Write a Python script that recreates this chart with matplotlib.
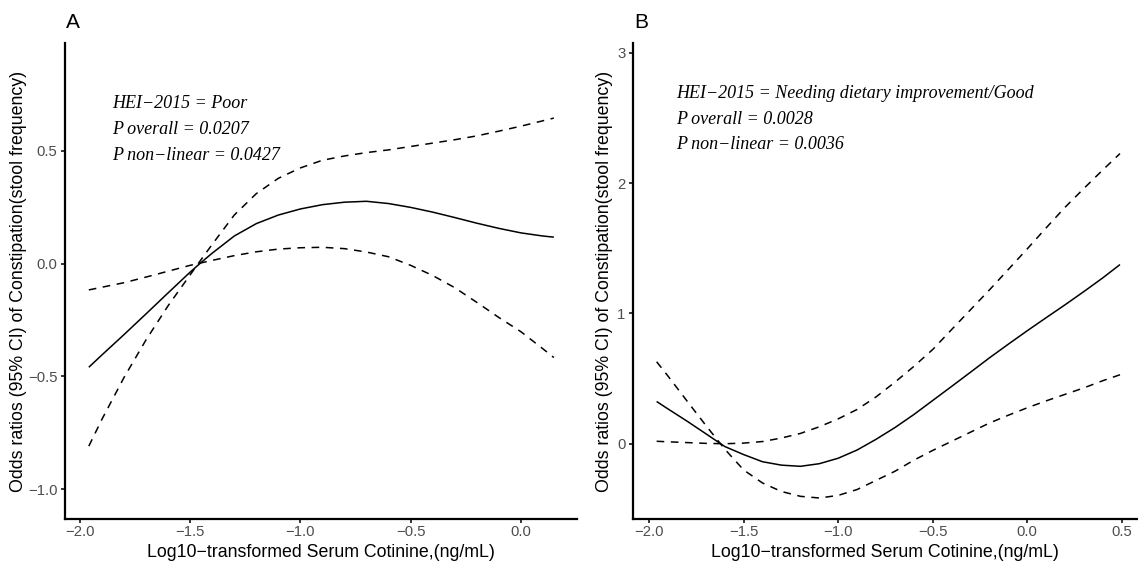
import matplotlib
matplotlib.use('Agg')
import matplotlib.pyplot as plt
from matplotlib.ticker import FuncFormatter

# ---- panel A : HEI-2015 = Poor ----
a_x = [-1.96, -1.90, -1.80, -1.70, -1.60, -1.50, -1.45, -1.40, -1.30, -1.20,
       -1.10, -1.00, -0.90, -0.80, -0.70, -0.60, -0.50, -0.40, -0.30, -0.20,
       -0.10, 0.00, 0.10, 0.15]
a_or = [-0.460, -0.405, -0.315, -0.223, -0.130, -0.038, 0.005, 0.046, 0.122,
        0.177, 0.215, 0.242, 0.261, 0.272, 0.276, 0.266, 0.249, 0.228, 0.204,
        0.179, 0.156, 0.136, 0.122, 0.117]
a_ci1 = [-0.810, -0.690, -0.505, -0.338, -0.187, -0.050, 0.018, 0.085, 0.215,
         0.310, 0.378, 0.424, 0.458, 0.477, 0.492, 0.504, 0.519, 0.534, 0.549,
         0.566, 0.587, 0.609, 0.633, 0.645]
a_ci2 = [-0.117, -0.105, -0.085, -0.060, -0.034, -0.008, 0.003, 0.014, 0.035,
         0.052, 0.064, 0.070, 0.072, 0.066, 0.051, 0.030, -0.008, -0.053,
         -0.107, -0.172, -0.239, -0.302, -0.378, -0.417]
a_notes = ['HEI\u22122015 = Poor', 'P overall = 0.0207',
           'P non\u2212linear = 0.0427']

# ---- panel B : HEI-2015 = Needing dietary improvement/Good ----
b_x = [-1.96, -1.90, -1.80, -1.70, -1.60, -1.50, -1.40, -1.30, -1.20, -1.10,
       -1.00, -0.90, -0.80, -0.70, -0.60, -0.50, -0.40, -0.30, -0.20, -0.10,
       0.00, 0.10, 0.20, 0.30, 0.40, 0.49]
b_or = [0.325, 0.268, 0.175, 0.078, -0.020, -0.082, -0.137, -0.163, -0.172,
        -0.152, -0.110, -0.047, 0.035, 0.125, 0.225, 0.333, 0.441, 0.550,
        0.660, 0.765, 0.868, 0.968, 1.067, 1.169, 1.274, 1.375]
b_ci1 = [0.020, 0.016, 0.010, 0.004, 0.001, 0.006, 0.018, 0.045, 0.080,
         0.131, 0.192, 0.264, 0.360, 0.473, 0.594, 0.724, 0.877, 1.029,
         1.181, 1.338, 1.496, 1.657, 1.815, 1.960, 2.102, 2.226]
b_ci2 = [0.630, 0.520, 0.330, 0.142, -0.040, -0.200, -0.300, -0.365, -0.402,
         -0.415, -0.395, -0.350, -0.280, -0.210, -0.125, -0.050, 0.020, 0.090,
         0.160, 0.220, 0.277, 0.330, 0.380, 0.430, 0.485, 0.530]
b_notes = ['HEI\u22122015 = Needing dietary improvement/Good',
           'P overall = 0.0028', 'P non\u2212linear = 0.0036']

x_title = 'Log10\u2212transformed Serum Cotinine,(ng/mL)'
y_title = 'Odds ratios (95% CI) of Constipation(stool frequency)'

plt.rcParams['font.family'] = ['Liberation Sans', 'DejaVu Sans']

W, H = 1138., 563.


def minus_fmt(fmt):
    # R style labels use a real minus sign
    return FuncFormatter(lambda v, pos: (fmt % v).replace('-', '\u2212'))


def draw_panel(ax, x, y, lo, hi, notes, note_xy, tag, xticks, yticks,
               xlim, ylim, yfmt, ylab_x):
    ax.plot(x, y, color='black', lw=1.1, solid_capstyle='butt')
    for ci in (lo, hi):
        ax.plot(x, ci, color='black', lw=1.1, dashes=(5, 4.3))

    nx, ny = note_xy
    for txt, yy in zip(notes, ny):
        ax.text(nx, yy, txt, family='Liberation Serif', style='italic',
                fontsize=13, ha='left', va='baseline', color='black')

    ax.set_xlim(*xlim)
    ax.set_ylim(*ylim)
    ax.set_xticks(xticks)
    ax.set_yticks(yticks)
    ax.xaxis.set_major_formatter(minus_fmt('%.1f'))
    ax.yaxis.set_major_formatter(minus_fmt(yfmt))

    for side in ('top', 'right'):
        ax.spines[side].set_visible(False)
    for side in ('left', 'bottom'):
        ax.spines[side].set_linewidth(1.6)
        ax.spines[side].set_color('black')
    ax.tick_params(axis='both', length=3.0, width=1.1, color='black',
                   labelcolor='#4D4D4D', labelsize=10.7)
    ax.tick_params(axis='x', pad=1.5)
    ax.tick_params(axis='y', pad=2.5)

    ax.set_xlabel(x_title, fontsize=12.8, color='black')
    ax.set_ylabel(y_title, fontsize=12.8, color='black')
    ax.xaxis.set_label_coords(0.5, -0.052)
    ax.yaxis.set_label_coords(ylab_x, 0.5)

    ax.text(tag[0], tag[1], tag[2], transform=ax.figure.transFigure,
            fontsize=15, ha='left', va='center', color='black')


fig = plt.figure(figsize=(W / 100, H / 100), dpi=100)

ax_top, ax_bot = 43, 519
ax_a = fig.add_axes([65 / W, 1 - ax_bot / H, (577 - 65) / W, (ax_bot - ax_top) / H])
ax_b = fig.add_axes([633 / W, 1 - ax_bot / H, (1137 - 633) / W, (ax_bot - ax_top) / H])

draw_panel(ax_a, a_x, a_or, a_ci1, a_ci2, a_notes,
           (-1.856, [0.689, 0.574, 0.459]), (66 / W, 1 - 23 / H, 'A'),
           [-2.0, -1.5, -1.0, -0.5, 0.0], [-1.0, -0.5, 0.0, 0.5],
           (-2.068, 0.255), (-1.133, 0.978), '%.1f', -0.0742)

draw_panel(ax_b, b_x, b_or, b_ci1, b_ci2, b_notes,
           (-1.859, [2.653, 2.456, 2.262]), (634 / W, 1 - 23 / H, 'B'),
           [-2.0, -1.5, -1.0, -0.5, 0.0, 0.5], [0, 1, 2, 3],
           (-2.085, 0.58), (-0.576, 3.074), '%d', -0.0397)

fig.savefig('out.png', dpi=100)
plt.close(fig)
